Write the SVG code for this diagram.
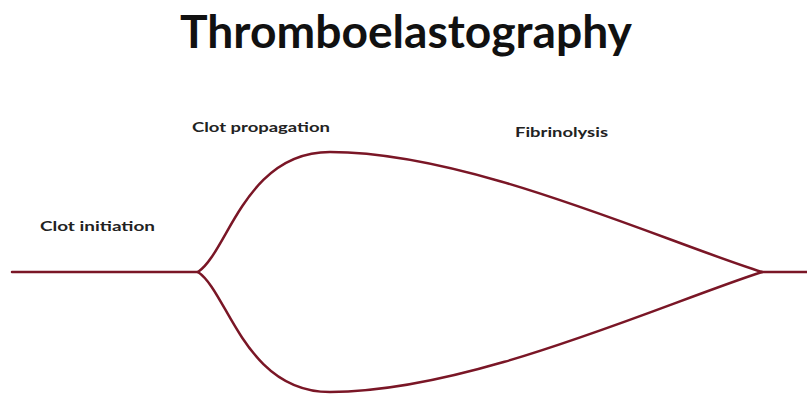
<svg xmlns="http://www.w3.org/2000/svg" width="807" height="400" viewBox="0 0 807 400">
  <style>
    .title { font-family: Lato, "Open Sans", "Liberation Sans", sans-serif; font-weight: bold; font-size: 45px; fill: #111; }
    .label { font-family: Lato, "Open Sans", "Liberation Sans", sans-serif; font-weight: bold; font-size: 13px; fill: #222; }
    .trace { fill: none; stroke: #7a1626; stroke-width: 2.5; stroke-linecap: round; stroke-linejoin: round; }
  </style>
  <rect width="807" height="400" fill="#ffffff"/>
  <g id="title">
    <text class="title" x="180" y="48" textLength="452" lengthAdjust="spacingAndGlyphs">Thromboelastography</text>
  </g>
  <g id="labels">
    <text class="label" x="40" y="231" textLength="115" lengthAdjust="spacingAndGlyphs">Clot initiation</text>
    <text class="label" x="192" y="132" textLength="138" lengthAdjust="spacingAndGlyphs">Clot propagation</text>
    <text class="label" x="515" y="137" textLength="93" lengthAdjust="spacingAndGlyphs">Fibrinolysis</text>
  </g>
  <g id="connectors">
    <path class="trace" d="M12,272 L198,272"/>
    <path class="trace" d="M198,272 C228,252 245,152 330,152 C470,152 660,240 762,272"/>
    <path class="trace" d="M198,272 C228,292 245,392 330,392 C470,392 660,305 762,272"/>
    <path class="trace" d="M762,272 L807,272"/>
  </g>
</svg>
